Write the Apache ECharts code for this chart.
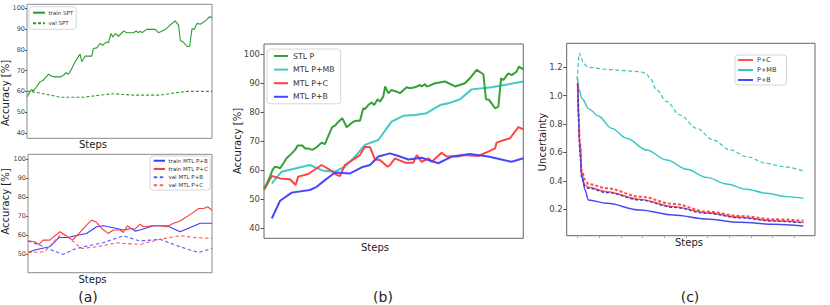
<!DOCTYPE html>
<html>
<head>
<meta charset="utf-8">
<script src="https://cdn.jsdelivr.net/npm/echarts@6/dist/echarts.min.js"></script>
<style>html,body{margin:0;padding:0;background:#fff}#c{width:830px;height:305px}</style>
</head>
<body>
<div id="c"></div>
<script>
// ---------- Panel (a) top: single-task ----------
const aTrainSptX = [0,1.3,2.5,3.4,4.9,7,8.8,10.6,11.6,13.4,15.2,17.9,19.7,21.1,22.4,24.2,26,28.7,29.6,31.4,35,35.9,37.7,39.5,41,43.1,44,45.3,46.4,47.7,49.5,52.2,54,57.6,59,60.3,61.2,62.1,64.8,69.3,71.1,74.7,77.4,80.1,81.9,82.9,84.3,86.8,87.9,89.2,90.4,91.9,93.7,96.4,97.3,98.7,100];
const aTrainSptY = [57.4,59.3,60.9,60.3,61.9,64.6,65.4,67.3,68.3,67.3,67,67,67.8,69,68.3,71,74.3,78,74.3,77,77,80.7,81,83.1,82.3,83.9,83.4,87.9,86.3,87.9,86.6,89.1,88.3,88.3,89.1,88.3,89.1,88.3,89.9,89.9,88.3,89.9,92,94,92,84.4,83.9,81.5,81.8,90.3,89.9,92.8,92.4,94,94.7,96,95.7];
const aValSptX = [0,3.4,10.6,17.9,30.5,39.5,46.8,57.6,72,79.2,86.5,100];
const aValSptY = [60.2,59.8,58.6,57.2,57.2,58.2,58.9,58.2,58.2,59.2,60,60];

// ---------- Panel (a) bottom: multi-task ----------
const aTrainPBX = [0,3.6,11.8,16.9,21.8,25.5,31.8,37.3,40.9,46.4,51.8,56.4,58.2,60.9,68.2,75.5,82.7,93.6,100];
const aTrainPBY = [51,52.3,54,58.9,58.9,59.8,61,64.5,65,64,62.8,63.6,62.2,62.8,65,65,61.9,66.3,66.3];
const aTrainPCX = [0,3.6,6,8.2,11.8,17.3,20.9,24.2,28.2,31.8,34.5,37.3,40,43.6,46.4,50,51.8,54,56.4,58.2,60.9,62.7,67.3,71.8,75.5,79.1,82.7,89.1,92.7,95.5,97.6,100];
const aTrainPCY = [57.2,56.6,55.2,57.5,57.5,61.9,59.8,57.5,61.5,65.4,68,66.8,63.6,61,62.8,62.8,61.5,65,63.3,63.3,65.9,64.5,65,65,64.5,66.3,67.5,71.5,74.1,74.1,75,73.3];
const aValPBX = [0,6.4,12.7,19.1,25.5,30,40.9,51.8,60.9,71.8,82.7,92.7,100];
const aValPBY = [57,54.9,52.3,50,52.8,54,56.1,59.8,57,57.9,54,51,53.1];
const aValPCX = [0,9.1,18.2,21.8,29.1,37.3,48.2,60.9,71.8,82.7,91.8,100];
const aValPCY = [51,51.4,61,59,53.1,54,56.1,55.2,57.9,59.8,58.7,58.4];

// ---------- Panel (b) ----------
const bStlX = [0,1,2.3,3.3,4.2,5.3,6.2,7.5,8.7,10.7,12,13,14.8,15.8,17.1,18.6,20.3,22.2,23.5,24.8,26.3,27.4,28.7,30.2,31.9,33.2,34.4,35.7,37,38.3,38.9,40.2,41.5,42.5,43.8,44.7,46,46.7,47.9,49.2,51.2,52.4,55,56.3,58.2,60.2,60.8,62.1,62.7,63.6,65.9,69.8,73.7,77.5,79.4,82,84.6,85.6,86.8,89.1,90.4,91.4,92.3,94.2,95.5,97.4,98.3,100];
const bStlY = [53.8,55.3,57.8,60.1,61.2,61,60.7,62.4,64.1,65.8,67,68.5,68.5,67.5,67.5,67,67.9,69.5,69,71.8,74.8,75.3,76.7,77.9,74.8,75.8,76.7,77,77,81.3,81,82.4,83.3,82.4,84.4,83.6,85.3,88.8,86.5,87.6,87,86.5,88.5,88.2,88.5,89.3,88.8,89.6,88.8,89,89.9,90.5,88.8,89.9,91.6,94.5,93,84.4,84.2,81.3,81.9,91.6,91,93.3,92.7,93.9,95.6,94.7];
const bMbX = [3,6.8,17.7,22.9,27.4,31.2,35.1,38.9,44.1,49.2,53.7,58.2,62.7,67.9,71.1,75.6,80.1,87.8,100];
const bMbY = [55.5,59.5,61.8,59.8,59.5,61.2,64.7,68.7,70.4,76.7,78.7,79,79.6,82.4,83,84.4,87.8,88.5,90.5];
const bPcX = [0,3,6.2,10,12.2,13.2,17.1,22.2,26.1,28,29.3,31.2,37,38.9,40.9,42.8,44.7,47.7,48.6,50.5,54.4,57.6,58.9,60.8,62.1,63.4,64.7,68.5,70.4,74.9,77.5,82.6,86.5,89.1,89.7,91.6,94.9,98.1,100];
const bPcY = [53.2,58,57.2,56.9,54.9,57.8,58.7,61.8,59.8,58.4,58,61.8,65.2,68.1,67.9,63.7,63.5,61.2,61.8,64.1,62.6,62.6,65.2,62.9,63.5,64.1,62.9,66,64.7,64.7,65.2,64.9,66.4,67.5,69.5,70.1,71,74.8,74.1];
const bPbX = [3,6.2,10.7,17.7,20.3,23.5,27.4,33.2,37.7,40.9,44.1,48.6,51.8,55.7,60.8,63.4,67.2,72.4,79.4,86.5,95.5,100];
const bPbY = [43.4,49.5,52.3,53.2,54.3,56.6,59.2,58.9,61,61.8,64.7,65.8,64.9,63.7,64.3,63.5,62.4,64.7,65.6,64.7,62.9,64.1];

// ---------- Panel (c) uncertainty ----------
const cMbValX = [-0.02,0.08,0.14,0.26,0.49,1.34,2.11,2.88,3.15,3.34,3.65,4.11,4.72,5.49,6.26,7.03,7.8,8.72,9.49,10.42];
const cMbValY = [1.11,1.299,1.275,1.228,1.2,1.186,1.177,1.169,1.158,1.123,1.04,0.958,0.864,0.77,0.688,0.618,0.571,0.524,0.5,0.47];
const cMbX = [-0.02,0.08,0.18,0.54,0.95,1.57,2.26,3.18,4.11,5.03,5.95,6.88,7.8,8.72,9.65,10.42];
const cMbY = [1.134,1.04,0.982,0.904,0.857,0.77,0.7,0.618,0.547,0.482,0.425,0.378,0.341,0.313,0.289,0.277];
const cStepX = [0,0.11,0.18,0.34,0.49,1.34,2.88,4.42,5.95,7.49,9.03,10.42];
const cPcValY = [1.087,0.665,0.477,0.407,0.378,0.348,0.289,0.238,0.184,0.153,0.13,0.12];
const cPcY = [1.087,0.6,0.43,0.37,0.355,0.324,0.27,0.219,0.176,0.144,0.12,0.108];
const cPbValY = [1.08,0.58,0.42,0.36,0.348,0.318,0.265,0.214,0.172,0.14,0.117,0.104];
const cPbY = [1.087,0.665,0.453,0.336,0.266,0.242,0.195,0.16,0.132,0.108,0.094,0.083];
const cTickSteps = [0,1,2,3,4,5,6,7,8,9,10];

// ---------- tick labels ----------
const accTicks = [40,50,60,70,80,90,100];
const accTicksBottom = [50,60,70,80,90,100];
const uncTicks = [0.2,0.4,0.6,0.8,1.0,1.2];

const FONT = 'DejaVu Sans';
const zip = (xs, ys) => xs.map((x, i) => [x, ys[i]]);

const grids = [
  {left: 27, top: 4.3, width: 185, height: 134, borderColor: '#8a8a8a'},
  {left: 28, top: 154.3, width: 184, height: 118.4, borderColor: '#8a8a8a'},
  {left: 264, top: 44, width: 259.3, height: 194.3, borderColor: '#666'},
  {left: 566.7, top: 43.3, width: 248.3, height: 192.4, borderColor: '#666'}
].map(g => Object.assign({show: true, borderWidth: 1, backgroundColor: '#fff', containLabel: false}, g));

function xAx(gi, min, max, ticks) {
  const a = {type: 'value', gridIndex: gi, min, max, position: 'bottom',
    axisLine: {show: false, onZero: false}, splitLine: {show: false}, axisLabel: {show: false},
    axisTick: {show: false}};
  if (ticks) a.axisTick = {show: true, inside: false, customValues: ticks, length: 2.5, lineStyle: {color: '#aaa'}};
  return a;
}
function yAx(gi, min, max, ticks, fs, fmt) {
  return {type: 'value', gridIndex: gi, min, max, position: 'left',
    axisLine: {show: false, onZero: false}, splitLine: {show: false},
    axisTick: {show: true, customValues: ticks, length: fs > 7 ? 3.5 : 2, lineStyle: {color: '#555'}},
    axisLabel: {customValues: ticks, fontSize: fs, fontFamily: FONT, color: '#444',
      margin: fs > 7 ? 4 : 2, formatter: fmt || (v => String(v))}};
}

function line(name, gi, xs, ys, color, width, type, z) {
  return {name, type: 'line', xAxisIndex: gi, yAxisIndex: gi, data: zip(xs, ys),
    symbol: 'none', showSymbol: false, animation: false, z: z || 2,
    itemStyle: {color}, lineStyle: {color, width, type: type || 'solid'}};
}
function smoothLine(name, gi, xs, ys, color, width, type, z) {
  const s = line(name, gi, xs, ys, color, width, type, z);
  s.smooth = 0.35; s.smoothMonotone = 'x';
  return s;
}

const GREEN = '#36a036', CYAN = '#3fcaca', RED = '#ff4242', BLUE = '#4646ff';

const legendBase = {orient: 'vertical', align: 'left', borderColor: '#d6d6d6', borderWidth: 1,
  borderRadius: 3, backgroundColor: 'rgba(255,255,255,0.85)', selectedMode: false,
  itemStyle: {opacity: 0, borderWidth: 0}};

const T = (x, y, text, size, rot) => ({type: 'text', x, y, rotation: rot ? Math.PI / 2 : 0,
  style: {text, font: size + 'px "DejaVu Sans"', fill: '#222', align: 'center', verticalAlign: 'middle'}});

const option = {
  backgroundColor: '#fff',
  animation: false,
  grid: grids,
  xAxis: [xAx(0, 0, 100), xAx(1, 0, 100), xAx(2, 0, 100), xAx(3, -0.508, 10.954, cTickSteps)],
  yAxis: [
    yAx(0, 37.4, 102, accTicks, 6.5),
    yAx(1, 40.4, 102.5, accTicksBottom, 6.5),
    yAx(2, 36.6, 103.4, accTicks, 8.5),
    yAx(3, 0.014, 1.369, uncTicks, 8.5, v => v.toFixed(1))
  ],
  legend: [
    Object.assign({}, legendBase, {data: ['train SPT', 'val SPT'], left: 29, top: 6.7,
      itemWidth: 12, itemHeight: 6, itemGap: 3.6, padding: [2.5, 3, 2.5, 3],
      textStyle: {fontSize: 5.5, lineHeight: 7, fontFamily: FONT, color: '#333', padding: [0, 0, 0, -1.5]}}),
    Object.assign({}, legendBase, {data: ['train MTL P+B', 'train MTL P+C', 'val MTL P+B', 'val MTL P+C'],
      left: 150, top: 156, itemWidth: 11.3, itemHeight: 6, itemGap: 1.7, padding: [1.5, 2.5, 1.5, 2.7],
      textStyle: {fontSize: 5.5, lineHeight: 6.5, fontFamily: FONT, color: '#333', padding: [0, 0, 0, -1.5]}}),
    Object.assign({}, legendBase, {data: ['STL P', 'MTL P+MB', 'MTL P+C', 'MTL P+B'],
      left: 267, top: 49, itemWidth: 14, itemHeight: 8, itemGap: 3.6, padding: [2, 6, 2, 6],
      textStyle: {fontSize: 7.8, lineHeight: 10, fontFamily: FONT, color: '#333'}}),
    Object.assign({}, legendBase, {data: ['P+C', 'P+MB', 'P+B'],
      left: 735, top: 55, itemWidth: 15, itemHeight: 7, itemGap: 2, padding: [1, 10, 1, 2],
      textStyle: {fontSize: 6.5, lineHeight: 8, fontFamily: FONT, color: '#333', padding: [0, 0, 0, -1]}})
  ],
  series: [
    line('train SPT', 0, aTrainSptX, aTrainSptY, '#2e9a2e', 1.1),
    line('val SPT', 0, aValSptX, aValSptY, '#2e9a2e', 1.1, [3, 2]),
    line('train MTL P+B', 1, aTrainPBX, aTrainPBY, '#3a3aff', 1.1),
    line('train MTL P+C', 1, aTrainPCX, aTrainPCY, '#ff3a3a', 1.1),
    line('val MTL P+B', 1, aValPBX, aValPBY, '#5a5aff', 1.1, [3.5, 2.5]),
    line('val MTL P+C', 1, aValPCX, aValPCY, '#ff5a5a', 1.1, [3.5, 2.5]),
    line('STL P', 2, bStlX, bStlY, GREEN, 2, 'solid', 3),
    line('MTL P+MB', 2, bMbX, bMbY, CYAN, 2),
    line('MTL P+C', 2, bPcX, bPcY, RED, 2),
    line('MTL P+B', 2, bPbX, bPbY, BLUE, 2),
    smoothLine('P+C', 3, cStepX, cPcY, '#ff5050', 1.4),
    smoothLine('P+MB', 3, cMbX, cMbY, '#33c6c6', 1.4),
    smoothLine('P+B', 3, cStepX, cPbY, '#4a4af2', 1.5),
    smoothLine('P+MB val', 3, cMbValX, cMbValY, '#33c6c6', 1.2, [4, 2.5]),
    smoothLine('P+C val', 3, cStepX, cPcValY, '#ff4a4a', 2, [3, 2], 3),
    smoothLine('P+B val', 3, cStepX, cPbValY, '#3c3cd8', 1.3, [3, 2], 4)
  ],
  graphic: [
    T(93, 144, 'Steps', 10),
    T(5, 93, 'Accuracy [%]', 10, true),
    T(5, 201.5, 'Accuracy [%]', 10, true),
    T(92.5, 279.3, 'Steps', 10),
    T(88, 297, '(a)', 14),
    T(237, 141, 'Accuracy [%]', 10, true),
    T(375, 247.7, 'Steps', 10),
    T(383, 297, '(b)', 14),
    T(542, 142, 'Uncertainty', 10, true),
    T(689, 242, 'Steps', 10),
    T(690, 297, '(c)', 14)
  ]
};

const chart = echarts.init(document.getElementById('c'), null, {renderer: 'svg', width: 830, height: 305});
chart.setOption(option);
</script>
</body>
</html>
